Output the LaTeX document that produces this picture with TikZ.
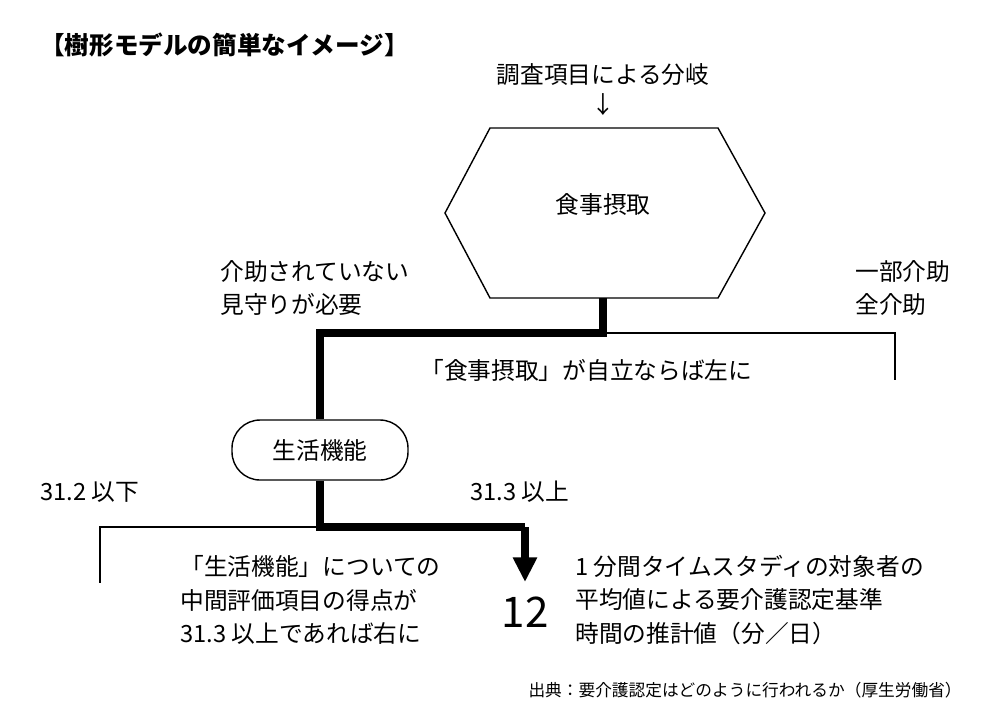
\documentclass[tikz,border=0pt]{standalone}
\usepackage{fontspec}
\setmainfont{Noto Sans CJK JP}
\usetikzlibrary{arrows.meta}
\begin{document}
\begin{tikzpicture}[x = 0.02cm, y = -0.02cm]
\tikzstyle{textStyle} = [font = \fontsize{13.5}{19}\selectfont, inner sep = 0pt]
\tikzstyle{labelStyle} = [textStyle, align = left, anchor = west]
\tikzstyle{thickEdge} = [line width = 4.5pt]
\tikzstyle{thinEdge} = [line width = 0.8pt]
\useasboundingbox (0,0) rectangle (1000,725);
\node[textStyle, font = \fontsize{14}{18}\selectfont\bfseries, anchor = west] (title) at (40,45) {【樹形モデルの簡単なイメージ】};
\node[textStyle] (branch) at (603,75) {調査項目による分岐};
\node[textStyle] (down) at (603,105) {↓};
\draw[thinEdge] (445,213) -- (490,128) -- (718,128) -- (765,213) -- (718,298) -- (490,298) -- cycle;
\node[textStyle] (meal) at (603,205) {食事摂取};
\coordinate (mealBottom) at (603,298);
\coordinate (split1) at (603,333);
\coordinate (left1) at (320,333);
\coordinate (right1) at (895,333);
\coordinate (right1End) at (895,380);
\node[draw, thinEdge, rounded corners = 16pt, minimum width = 176*0.02cm, minimum height = 60*0.02cm, textStyle] (life) at (320,450) {生活機能};
\draw[thickEdge] (mealBottom) -- (split1) -- (left1) -- (life.north);
\draw[thinEdge] (split1) -- (right1) -- (right1End);
\node[labelStyle] (care1) at (220,288) {介助されていない\\見守りが必要};
\node[labelStyle] (care2) at (855,288) {一部介助\\全介助};
\node[labelStyle] (rule1) at (420,370) {「食事摂取」が自立ならば左に};
\coordinate (split2) at (320,527);
\coordinate (right2) at (525,527);
\coordinate (left2) at (100,527);
\coordinate (left2End) at (100,583);
\node[textStyle, font = \fontsize{24}{28}\selectfont] (result) at (525,612) {12};
\draw[thickEdge] (life.south) -- (split2) -- (right2);
\draw[thickEdge, -{Triangle[length = 14pt, width = 13pt]}] (right2) -- (525,582);
\draw[thinEdge] (split2) -- (left2) -- (left2End);
\node[labelStyle] (low) at (40,492) {31.2 以下};
\node[labelStyle] (high) at (470,492) {31.3 以上};
\node[labelStyle] (rule2) at (180,600) {「生活機能」についての\\中間評価項目の得点が\\31.3 以上であれば右に};
\node[labelStyle] (note) at (575,600) {1 分間タイムスタディの対象者の\\平均値による要介護認定基準\\時間の推計値（分／日）};
\node[textStyle, font = \fontsize{9.5}{12}\selectfont, anchor = east] (source) at (962,690) {出典：要介護認定はどのように行われるか（厚生労働省）};
\end{tikzpicture}
\end{document}
